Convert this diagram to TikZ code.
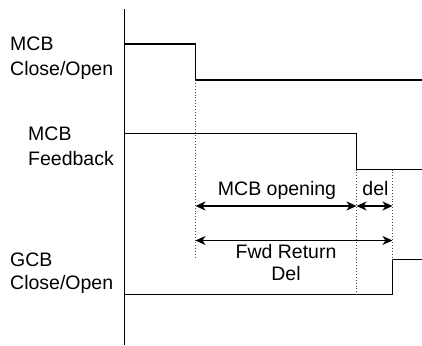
\documentclass[tikz,border=0pt]{standalone}
\usepackage{fontspec}
\setmainfont{Liberation Sans}
\usetikzlibrary{arrows.meta}
\begin{document}
\begin{tikzpicture}[x=1pt,y=-1pt,
  sig/.style={line width=1.5pt,line join=miter},
  guide/.style={line width=0.9pt,dotted,black!70},
  dim/.style={line width=1.2pt,{Stealth[length=10pt,width=9pt,inset=3pt]}-{Stealth[length=10pt,width=9pt,inset=3pt]}},
  lbl/.style={font=\fontsize{19.5}{22.5}\selectfont,inner sep=0pt,anchor=base west},
  clbl/.style={font=\fontsize{19.5}{22}\selectfont,inner sep=0pt,align=center,anchor=base}]
\useasboundingbox (0,0) rectangle (422,345);
% axis
\coordinate (axtop) at (124.5,9);
\coordinate (axbot) at (124.5,345);
\draw[line width=1.5pt] (axtop) -- (axbot);
% labels
\node[lbl] (m1a) at (10,50) {MCB};
\node[lbl] (m1b) at (10,75) {Close/Open};
\node[lbl] (m2a) at (28,140) {MCB};
\node[lbl] (m2b) at (28,165) {Feedback};
\node[lbl] (g1a) at (10,266) {GCB};
\node[lbl] (g1b) at (10,289.5) {Close/Open};
% signal coordinates
\coordinate (a0) at (124.5,44);
\coordinate (a1) at (195.5,44);
\coordinate (a2) at (195.5,80);
\coordinate (a3) at (422,80);
\coordinate (b0) at (124.5,133.5);
\coordinate (b1) at (356.5,133.5);
\coordinate (b2) at (356.5,169.5);
\coordinate (b3) at (422,169.5);
\coordinate (c0) at (124.5,294.5);
\coordinate (c1) at (392.5,294.5);
\coordinate (c2) at (392.5,259.5);
\coordinate (c3) at (422,259.5);
\draw[sig] (a0) -- (a1) -- (a2) -- (a3);
\draw[sig] (b0) -- (b1) -- (b2) -- (b3);
\draw[sig] (c0) -- (c1) -- (c2) -- (c3);
% guides
\coordinate (d1e) at (195.5,259);
\coordinate (d2e) at (356.5,294.5);
\draw[guide] (a2) -- (d1e);
\draw[guide] (b2) -- (d2e);
\draw[guide] (b2 -| c2) -- (c2);
% dimension arrows
\coordinate (p1) at (195.5,206);
\coordinate (p2) at (356.5,206);
\coordinate (p3) at (392.5,206);
\coordinate (q1) at (195.5,240.5);
\coordinate (q2) at (392.5,240.5);
\draw[dim] (p1) -- (p2);
\draw[dim] (p2) -- (p3);
\draw[dim] (q1) -- (q2);
\node[clbl] (t1) at (277,195) {MCB opening};
\node[clbl] (t2) at (375.5,195) {del};
\node[clbl] (t3) at (286,280) {Fwd Return\\Del};
\end{tikzpicture}
\end{document}
